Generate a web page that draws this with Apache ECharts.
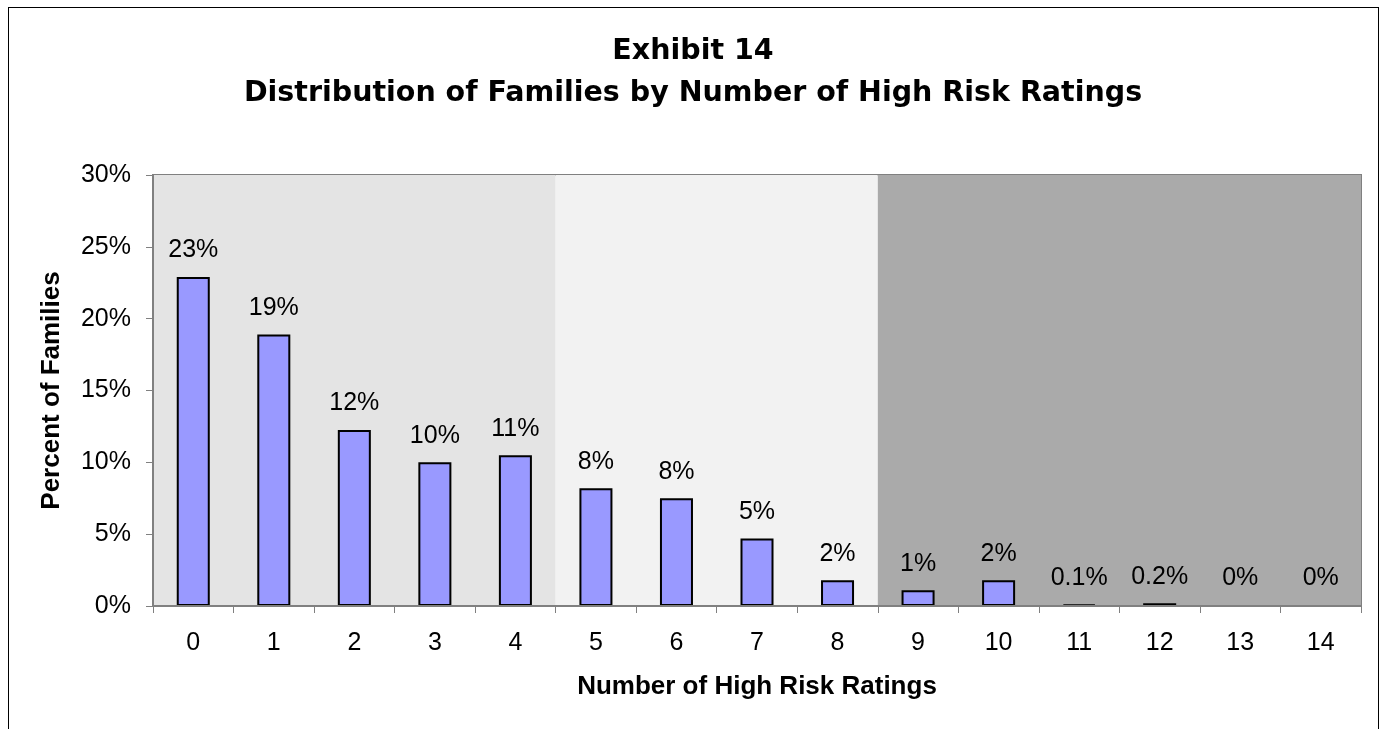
<!DOCTYPE html>
<html>
<head>
<meta charset="utf-8">
<script src="https://cdn.jsdelivr.net/npm/echarts@6/dist/echarts.min.js"></script>
<style>
html,body{margin:0;padding:0;background:#fff;}
#frame{position:absolute;left:8px;top:7px;width:1371px;height:740px;border:1px solid #000;border-bottom:none;box-sizing:border-box;}
#chart{position:absolute;left:0;top:0;width:1386px;height:729px;}
</style>
</head>
<body>
<div id="frame"></div>
<div id="chart"></div>
<script>
const titleLines = ['Exhibit 14', 'Distribution of Families by Number of High Risk Ratings'];
const categories = ['0','1','2','3','4','5','6','7','8','9','10','11','12','13','14'];
const percentValues = [22.9, 18.9, 12.25, 10.0, 10.5, 8.2, 7.5, 4.7, 1.8, 1.1, 1.8, 0.1, 0.2, 0, 0];
const valueLabels = ['23%','19%','12%','10%','11%','8%','8%','5%','2%','1%','2%','0.1%','0.2%','0%','0%'];
const yTicks = [0, 5, 10, 15, 20, 25, 30];
const zoneStarts = [0, 5, 9];
const zoneEnds = [5, 9, 15];
const zoneColors = ['#e4e4e4', '#f2f2f2', '#aaaaaa'];
const xAxisTitle = 'Number of High Risk Ratings';
const yAxisTitle = 'Percent of Families';

const chart = echarts.init(document.getElementById('chart'), null, {renderer: 'canvas'});
const zones = zoneStarts.map((s, i) => [
  {xAxis: s, itemStyle: {color: zoneColors[i]}},
  {xAxis: zoneEnds[i]}
]);
chart.setOption({
  animation: false,
  backgroundColor: 'transparent',
  title: {
    text: titleLines.join('\n'),
    left: 'center',
    top: 26,
    textStyle: {fontFamily: 'DejaVu Sans', fontWeight: 'bold', fontSize: 28.5, lineHeight: 42, color: '#000'}
  },
  grid: {left: 153, right: 25, top: 175, bottom: 123},
  xAxis: [{
    type: 'category',
    data: categories,
    name: xAxisTitle,
    nameLocation: 'middle',
    nameGap: 68,
    nameTextStyle: {fontFamily: 'Liberation Sans', fontWeight: 'bold', fontSize: 26, color: '#000'},
    axisLine: {lineStyle: {color: '#808080', width: 2}},
    axisTick: {show: true, length: 7, lineStyle: {color: '#808080', width: 1}},
    axisLabel: {fontFamily: 'Liberation Sans', fontSize: 25, color: '#000', margin: 25},
    splitLine: {show: false},
    z: 5
  }, {
    type: 'value',
    min: 0,
    max: 15,
    show: false
  }],
  yAxis: {
    type: 'value',
    min: yTicks[0],
    max: yTicks[yTicks.length - 1],
    interval: 5,
    name: yAxisTitle,
    nameLocation: 'middle',
    nameGap: 88,
    nameTextStyle: {fontFamily: 'Liberation Sans', fontWeight: 'bold', fontSize: 26, color: '#000'},
    axisLine: {show: true, lineStyle: {color: '#808080', width: 2}},
    axisTick: {show: true, length: 7, lineStyle: {color: '#808080', width: 1}},
    axisLabel: {fontFamily: 'Liberation Sans', fontSize: 25, color: '#000', margin: 22, formatter: v => v + '%'},
    splitLine: {show: false},
    z: 5
  },
  series: [{
    type: 'line',
    xAxisIndex: 1,
    data: [],
    silent: true,
    z: 0,
    markArea: {silent: true, data: zones}
  }, {
    type: 'bar',
    data: percentValues,
    barWidth: '41%',
    itemStyle: {color: '#9999ff', borderColor: '#000', borderWidth: 2},
    label: {
      show: true,
      position: 'top',
      distance: 14,
      fontFamily: 'Liberation Sans',
      fontSize: 25,
      color: '#000',
      formatter: p => valueLabels[p.dataIndex]
    },
    z: 3
  }],
  graphic: [{
    type: 'rect',
    shape: {x: 153, y: 175, width: 1208, height: 431},
    style: {fill: 'none', stroke: '#808080', lineWidth: 2},
    silent: true,
    z: 1
  }]
});
</script>
</body>
</html>
